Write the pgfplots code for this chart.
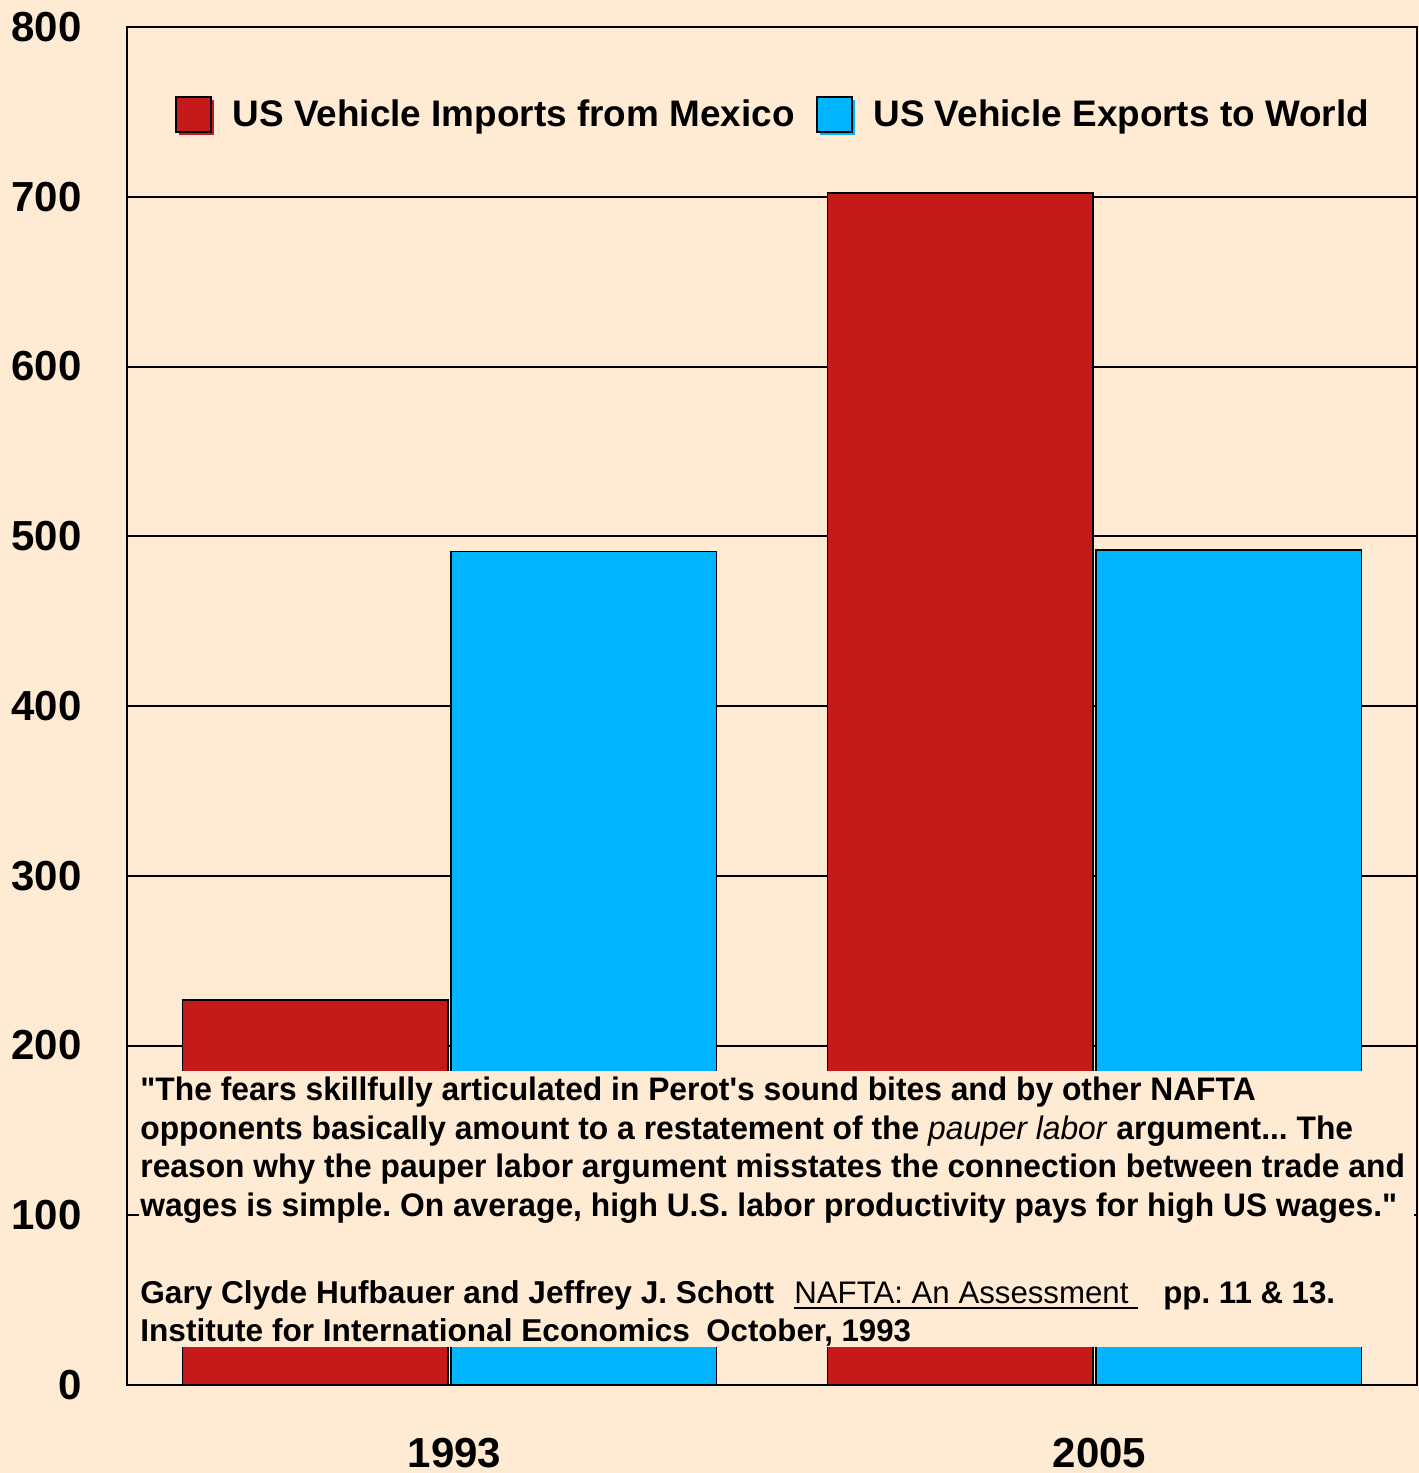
\documentclass[border=0pt]{standalone}
\usepackage{fontspec}
\setmainfont{Liberation Sans}
\newfontfamily\qfont[FakeStretch=0.975]{Liberation Sans}
\newfontfamily\cfont{Liberation Sans}
\usepackage{pgfplots}
\pgfplotsset{compat=1.18}
\definecolor{bg}{RGB}{255,235,211}
\definecolor{barred}{RGB}{198,26,26}
\definecolor{barblue}{RGB}{0,180,255}
\frenchspacing
\begin{document}
\begin{tikzpicture}
\fill[bg] (-63.5pt,-44pt) rectangle (646pt,692.5pt);
\path[use as bounding box] (-63.5pt,-44pt) rectangle (646pt,692.5pt);
\begin{axis}[
  at={(0,0)}, anchor=south west,
  scale only axis, width=645pt, height=679pt,
  xmin=-0.5, xmax=1.5, ymin=0, ymax=800,
  xtick={0,1}, xticklabels={1993,2005},
  ytick={0,100,...,800},
  ymajorgrids, major grid style={black, line width=1pt},
  axis line style={line width=1pt},
  major tick length=0pt,
  tick label style={font=\fontsize{21}{21}\selectfont\bfseries},
  /pgf/number format/assume math mode=true,
  yticklabel style={anchor=east, inner sep=0pt, xshift=-22.5pt},
  xticklabel style={anchor=base, inner sep=0pt, yshift=-41pt, xshift=2.5pt},
  legend style={at={(0.5015,0.935)}, anchor=center, draw=none, fill=none,
    font=\fontsize{18.45}{18.45}\selectfont\bfseries, legend columns=2,
    /tikz/every even column/.append style={column sep=8.5pt}},
  legend image code/.code={
    \fill[#1,draw=none] (1.5pt,-10pt) rectangle (19pt,7.5pt);
    \filldraw[#1,draw=black,line width=1pt] (0pt,-8.5pt) rectangle (17.5pt,9pt);
    \path (26pt,0pt);
  },
]
\addplot[ybar, bar width=0.412, bar shift=-0.208, fill=barred, draw=black, line width=0.9pt]
  coordinates {(0,227) (1,702)};
\addplot[ybar, bar width=0.412, bar shift=0.208, fill=barblue, draw=black, line width=0.9pt]
  coordinates {(0,491) (1,492)};
\legend{US Vehicle Imports from Mexico, US Vehicle Exports to World}
\end{axis}
\fill[bg] (6pt,19pt) rectangle (643.5pt,157pt);
\begin{scope}[every node/.style={anchor=base west, inner sep=0pt}]
\node[font=\fontsize{16.3}{19}\selectfont\qfont\bfseries] at (6.5pt,142pt) {\symbol{34}The fears skillfully articulated in Perot\symbol{39}s sound bites and by other NAFTA};
\node[font=\fontsize{16.3}{19}\selectfont\qfont\bfseries] at (6.5pt,122.5pt) {opponents basically amount to a restatement of the \textmd{\itshape pauper labor} argument... The};
\node[font=\fontsize{16.3}{19}\selectfont\qfont\bfseries] at (6.5pt,103.5pt) {reason why the pauper labor argument misstates the connection between trade and};
\node[font=\fontsize{16.3}{19}\selectfont\qfont\bfseries] at (6.5pt,84.5pt) {wages is simple. On average, high U.S. labor productivity pays for high US wages.\symbol{34}};
\node[font=\fontsize{15.8}{18}\selectfont\cfont\bfseries] at (6.5pt,41pt) {Gary Clyde Hufbauer and Jeffrey J. Schott};
\node[font=\fontsize{15.6}{18}\selectfont\cfont] at (333.5pt,41pt) {NAFTA: An Assessment};
\node[font=\fontsize{15.6}{18}\selectfont\cfont\bfseries] at (518pt,41pt) {pp. 11 \& 13.};
\node[font=\fontsize{15.8}{18}\selectfont\cfont\bfseries] at (6.5pt,22pt) {Institute for International Economics};
\node[font=\fontsize{15.6}{18}\selectfont\cfont\bfseries] at (289.5pt,22pt) {October, 1993};
\end{scope}
\draw[line width=0.9pt] (333.5pt,38.6pt) -- (505.5pt,38.6pt);
\end{tikzpicture}
\end{document}
